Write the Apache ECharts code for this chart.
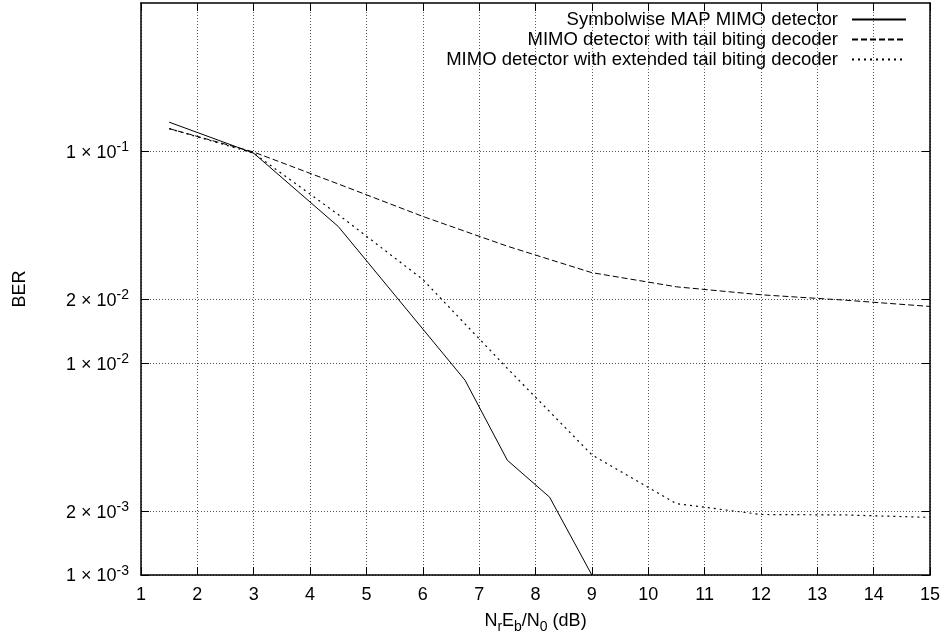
<!DOCTYPE html>
<html>
<head>
<meta charset="utf-8">
<script src="https://cdn.jsdelivr.net/npm/echarts@6/dist/echarts.min.js"></script>
<style>
html,body{margin:0;padding:0;background:#fff;}
#chart{width:948px;height:639px;}
</style>
</head>
<body>
<div id="chart"></div>
<script>
// ---- data ----
const seriesNames = [
  'Symbolwise MAP MIMO detector',
  'MIMO detector with tail biting decoder',
  'MIMO detector with extended tail biting decoder'
];
const snrSolid = [1.5, 3, 4.5, 6.75, 7.5, 8.25, 9];
const berSolid = [0.137, 0.0978, 0.0441, 0.0083, 0.00348, 0.00233, 0.001];
const snrTail = [1.5, 3, 4.5, 6, 7.5, 9, 10.5, 12, 13.5, 15];
const berTail = [0.1277, 0.099, 0.070, 0.0492, 0.0356, 0.0267, 0.0229, 0.0210, 0.0198, 0.0185];
const snrExt = [1.5, 3, 4.5, 6, 7.5, 9, 10.5, 12, 13.5, 15];
const berExt = [0.1277, 0.0978, 0.0502, 0.0248, 0.00944, 0.00369, 0.00217, 0.00193, 0.00192, 0.00187];
const yTicks = [0.001, 0.002, 0.01, 0.02, 0.1];
const xMin = 1, xMax = 15, xStep = 1;
const yMin = 0.001, yMax = 0.5;

const FONT = '"Liberation Sans", Arial, Helvetica, sans-serif';
const pair = (xs, ys) => xs.map((x, i) => [x, ys[i]]);

function yFmt(v) {
  const e = Math.floor(Math.log10(v) + 1e-9);
  const m = Math.round(v / Math.pow(10, e));
  return '{m|' + m + ' \u00d7 10}{e|' + e + '}';
}

const chart = echarts.init(document.getElementById('chart'), null, {renderer: 'canvas'});
const gridLine = {show: true, lineStyle: {color: '#555', width: 1, type: [1, 2]}};
const frameLine = {show: true, onZero: false, lineStyle: {color: '#000', width: 1.5}};
const tickStyle = {show: true, inside: true, length: 8, lineStyle: {color: '#000', width: 1}};

chart.setOption({
  animation: false,
  backgroundColor: '#fff',
  textStyle: {fontFamily: FONT},
  grid: {left: 141, right: 18, top: 3, bottom: 61, containLabel: false},
  legend: {
    orient: 'vertical', right: 41, top: 10, align: 'right', padding: 0,
    itemWidth: 54, itemHeight: 1, itemGap: 1,
    itemStyle: {opacity: 0},
    textStyle: {fontSize: 18.5, color: '#000', fontFamily: FONT, lineHeight: 18, padding: [0, 9, 0, 0]},
    data: seriesNames
  },
  xAxis: [{
    type: 'value', position: 'bottom', min: xMin, max: xMax, interval: xStep,
    axisLine: frameLine, axisTick: tickStyle,
    axisLabel: {fontSize: 18, color: '#000', margin: 11, fontFamily: FONT},
    splitLine: gridLine,
    name: '{a|N}{s|r}{a|E}{s|b}{a|/N}{s|0}{a| (dB)}',
    nameLocation: 'middle', nameGap: 33,
    nameTextStyle: {
      color: '#000', fontFamily: FONT,
      rich: {
        a: {fontSize: 18, color: '#000', fontFamily: FONT},
        s: {fontSize: 14, color: '#000', fontFamily: FONT, padding: [12, 0, 0, 0]}
      }
    }
  }, {
    type: 'value', position: 'top', min: xMin, max: xMax, interval: xStep,
    axisLine: frameLine, axisTick: tickStyle,
    axisLabel: {show: false}, splitLine: {show: false}
  }],
  yAxis: [{
    type: 'log', logBase: 10, position: 'left', min: yMin, max: yMax,
    axisLine: frameLine,
    axisTick: Object.assign({customValues: yTicks}, tickStyle),
    axisLabel: {
      customValues: yTicks, margin: 12, color: '#000', fontFamily: FONT,
      formatter: yFmt,
      rich: {
        m: {fontSize: 18, color: '#000', fontFamily: FONT, padding: [3, 0, 0, 0]},
        e: {fontSize: 14, color: '#000', fontFamily: FONT, padding: [0, 0, 8, 0]}
      }
    },
    splitLine: gridLine, minorTick: {show: false}, minorSplitLine: {show: false},
    name: 'BER', nameLocation: 'middle', nameGap: 112, nameRotate: 90,
    nameTextStyle: {fontSize: 18, color: '#000', fontFamily: FONT}
  }, {
    type: 'log', logBase: 10, position: 'right', min: yMin, max: yMax,
    axisLine: frameLine,
    axisTick: Object.assign({customValues: yTicks}, tickStyle),
    axisLabel: {show: false}, splitLine: {show: false}
  }],
  series: [{
    name: seriesNames[0], type: 'line', xAxisIndex: 0, yAxisIndex: 0,
    data: pair(snrSolid, berSolid), symbol: 'none', showSymbol: false,
    lineStyle: {color: '#000', width: 1, type: 'solid'}, itemStyle: {color: '#000'}
  }, {
    name: seriesNames[1], type: 'line', xAxisIndex: 0, yAxisIndex: 0,
    data: pair(snrTail, berTail), symbol: 'none', showSymbol: false,
    lineStyle: {color: '#000', width: 1, type: [6, 3]}, itemStyle: {color: '#000'}
  }, {
    name: seriesNames[2], type: 'line', xAxisIndex: 0, yAxisIndex: 0,
    data: pair(snrExt, berExt), symbol: 'none', showSymbol: false,
    lineStyle: {color: '#000', width: 1.2, type: [2, 4]}, itemStyle: {color: '#000'}
  }]
});
</script>
</body>
</html>
